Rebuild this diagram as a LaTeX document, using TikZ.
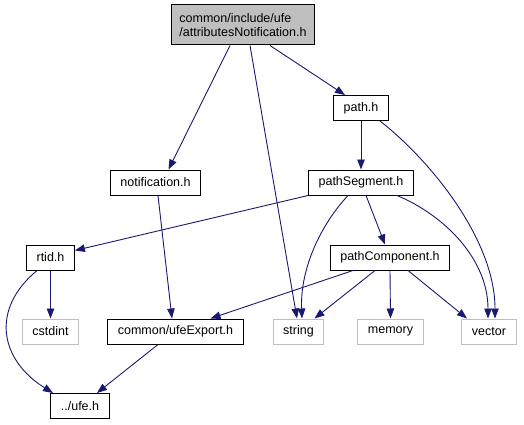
\documentclass[tikz,border=0pt]{standalone}
\usepackage{fontspec}
\setmainfont{Liberation Sans}
\usetikzlibrary{arrows.meta}
\definecolor{edgeblue}{HTML}{191970}
\definecolor{sysgray}{HTML}{BFBFBF}

\begin{document}
\begin{tikzpicture}[
x=1pt, y=-1pt,
font=\fontsize{12.5}{14}\selectfont,
box/.style={draw=black, line width=1pt, fill=white, inner xsep=10pt, minimum height=25pt},
sysbox/.style={box, draw=sysgray},
rootbox/.style={box, fill=sysgray, align=left, inner xsep=8pt, minimum height=40pt},
arrow/.style={-{Triangle[length=10pt, width=7.5pt]}, draw=edgeblue, line width=0.9pt}
]
\useasboundingbox (0,0) rectangle (524,425);

\node[rootbox] (root) at (243,25) {common/include/ufe\\/attributesNotification.h};
\node[box] (path) at (361,108) {path.h};
\node[box] (notification) at (155.5,182.5) {notification.h};
\node[box] (segment) at (361,182.5) {pathSegment.h};
\node[box] (component) at (390,257.5) {pathComponent.h};
\node[box] (rtid) at (50.5,257.5) {rtid.h};
\node[sysbox] (cstdint) at (50.5,331.5) {cstdint};
\node[box] (export) at (175.5,331.5) {common/ufeExport.h};
\node[sysbox] (string) at (298.5,331.5) {string};
\node[sysbox] (memory) at (390.5,331.5) {memory};
\node[sysbox] (vector) at (489,331.5) {vector};
\node[box] (ufe) at (80,406) {../ufe.h};

% from the root header
\draw[arrow] ([xshift=-13pt]root.south) -- ([xshift=13pt]notification.north);
\draw[arrow] ([xshift=7pt]root.south) -- ([xshift=-1.5pt]string.north);
\draw[arrow] ([xshift=27pt]root.south) -- ([xshift=-16pt]path.north);

% path.h and pathSegment.h
\draw[arrow] (path.south) -- (segment.north);
\draw[arrow] ([xshift=19pt]path.south) .. controls +(50,39) and +(0,-79) .. ([xshift=6pt]vector.north);
\draw[arrow] (segment.south west) -- ([yshift=7pt]rtid.east);
\draw[arrow] ([xshift=-13pt]segment.south) .. controls +(-28,30) and +(-2,-49) .. ([xshift=3.5pt]string.north);
\draw[arrow] ([xshift=5pt]segment.south) -- ([xshift=-5pt]component.north);
\draw[arrow] ([xshift=36pt]segment.south) .. controls +(48,20) and +(0,-59) .. ([xshift=-1pt]vector.north);

% pathComponent.h
\draw[arrow] ([xshift=-37pt]component.south) -- ([xshift=35pt]export.north);
\draw[arrow] ([xshift=-15pt]component.south) -- ([xshift=16pt]string.north);
\draw[arrow] (component.south) -- (memory.north);
\draw[arrow] ([xshift=18pt]component.south) -- ([xshift=-22pt]vector.north);

% lower left
\draw[arrow] ([xshift=2.5pt]notification.south) -- ([xshift=-3.5pt]export.north);
\draw[arrow] (rtid.south) -- (cstdint.north);
\draw[arrow] ([xshift=-13.5pt]rtid.south) .. controls +(-47,39) and +(-53,-33) .. ([xshift=-27pt]ufe.north);
\draw[arrow] ([xshift=-17.5pt]export.south) -- ([xshift=17pt]ufe.north);
\end{tikzpicture}
\end{document}
